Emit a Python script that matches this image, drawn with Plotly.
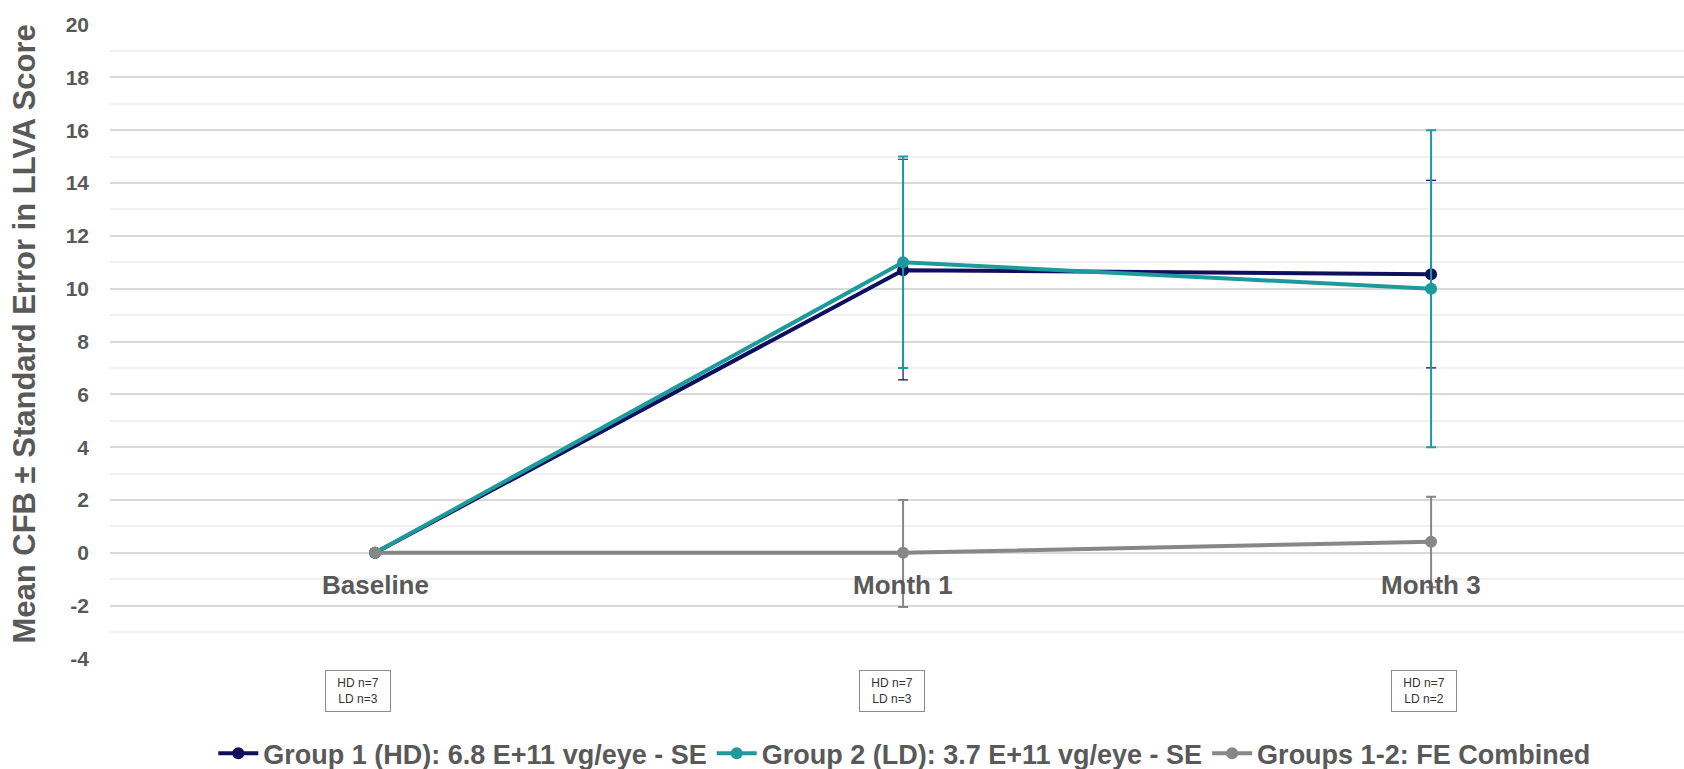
import plotly.graph_objects as go

# ---- data ----
categories = ["Baseline", "Month 1", "Month 3"]
g1_name = "Group 1 (HD): 6.8 E+11 vg/eye - SE"
g1_mean = [0, 10.7, 10.55]
g1_se_plus = [0, 4.2, 3.55]
g1_se_minus = [0, 4.15, 3.55]

g2_name = "Group 2 (LD): 3.7 E+11 vg/eye - SE"
g2_mean = [0, 11.0, 10.0]
g2_se_plus = [0, 4.0, 6.0]
g2_se_minus = [0, 4.0, 6.0]

g3_name = "Groups 1-2: FE Combined"
g3_mean = [0, 0, 0.42]
g3_se_plus = [0, 2.0, 1.7]
g3_se_minus = [0, 2.05, 1.72]

n_labels = ["HD n=7<br>LD n=3", "HD n=7<br>LD n=3", "HD n=7<br>LD n=2"]
n_xshift = [-17, -11, -7]

y_ticks = list(range(-4, 21, 2))
y_tick_text = [str(v) for v in y_ticks]
y_title = "Mean CFB ± Standard Error in LLVA Score"

# ---- styles ----
NAVY = "#0e0f5e"
TEAL = "#1c9a9c"
GRAY = "#878787"
TXT = "#595959"
FONT = "Arial, Liberation Sans, sans-serif"

fig = go.Figure()


def add_series(name, mean, ep, em, color, ethick):
    fig.add_trace(go.Scatter(
        x=categories, y=mean, name=name, mode="lines+markers",
        line=dict(color=color, width=4),
        marker=dict(color=color, size=12),
        error_y=dict(type="data", symmetric=False, array=ep, arrayminus=em,
                     color=color, thickness=ethick, width=5),
    ))


add_series(g1_name, g1_mean, g1_se_plus, g1_se_minus, NAVY, 1.2)
add_series(g2_name, g2_mean, g2_se_plus, g2_se_minus, TEAL, 2)
add_series(g3_name, g3_mean, g3_se_plus, g3_se_minus, GRAY, 2)

# category labels sitting under the zero line
for c in categories:
    fig.add_annotation(x=c, y=0, xref="x", yref="y", text=c, showarrow=False,
                       yanchor="top", yshift=-15,
                       font=dict(family=FONT, size=26, color=TXT, weight="bold"))

# n boxes
for c, t, dx in zip(categories, n_labels, n_xshift):
    fig.add_annotation(x=c, y=-0.05, xref="x", yref="paper", text=t, showarrow=False,
                       xshift=dx, yanchor="middle", align="center",
                       width=58, height=34, borderpad=3,
                       bordercolor="#8c8c8c", borderwidth=1, bgcolor="white",
                       font=dict(family=FONT, size=12, color="#333333"))

# y-axis title
fig.add_annotation(x=-0.0546, y=0.511, xref="paper", yref="paper", text=y_title,
                   showarrow=False, textangle=-90, xanchor="center", yanchor="middle",
                   font=dict(family=FONT, size=31, color=TXT, weight="bold"))

fig.update_layout(
    width=1684, height=769,
    margin=dict(l=110, r=0, t=24, b=110),
    paper_bgcolor="white", plot_bgcolor="white",
    font=dict(family=FONT, color=TXT),
    showlegend=True,
    legend=dict(orientation="h", xref="container", yref="container",
                x=0.537, y=0.02, xanchor="center", yanchor="middle",
                font=dict(family=FONT, size=27, color=TXT, weight="bold"),
                itemwidth=40),
    xaxis=dict(range=[-0.502, 2.479], showticklabels=False, showgrid=False,
               zeroline=False, showline=False, ticks=""),
    yaxis=dict(range=[-4.02, 20.02], tickvals=y_ticks, ticktext=y_tick_text,
               showgrid=True,
               gridcolor="#d9d9d9", gridwidth=1.5, zeroline=False, showline=False,
               ticks="", ticklabelstandoff=20,
               tickfont=dict(family=FONT, size=21, color=TXT, weight="bold"),
               minor=dict(dtick=1, showgrid=True, gridcolor="#f1f1f1", gridwidth=1.5)),
)

fig.write_html("out.html")
